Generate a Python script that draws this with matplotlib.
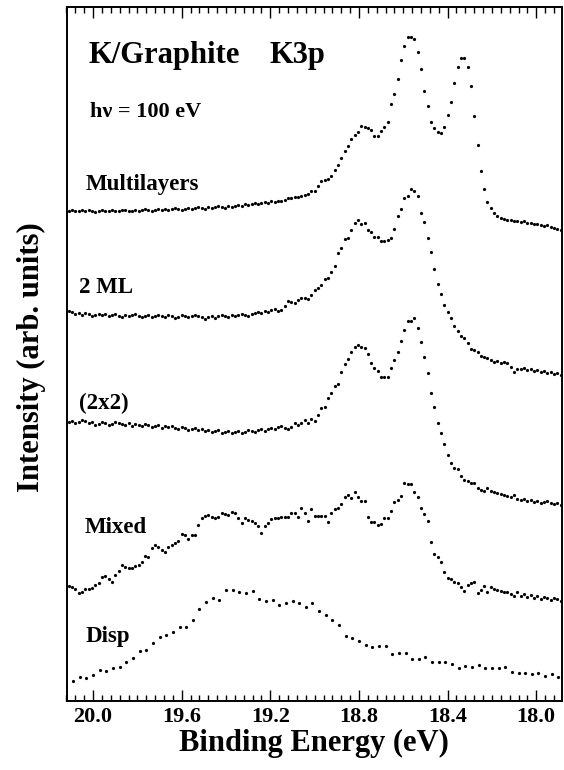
import matplotlib
matplotlib.use("Agg")
import matplotlib.pyplot as plt
import numpy as np
from matplotlib.ticker import MultipleLocator, FormatStrFormatter

# K 3p photoemission, K on graphite, hv = 100 eV
# dense scans run 20.11 -> 17.89 eV (149 pts), the Disp scan 20.09 -> 17.90 eV (74 pts)
# intensities are arbitrary units with the offsets already included

multilayers = [
    490, 491, 490, 490, 491, 490, 491, 490, 489, 490,
    491, 490, 490, 491, 490, 490, 491, 491, 490, 490,
    491, 490, 491, 492, 491, 490, 491, 492, 491, 492,
    491, 492, 493, 492, 491, 492, 493, 492, 493, 494,
    493, 492, 494, 493, 494, 495, 494, 493, 495, 494,
    495, 496, 495, 497, 496, 497, 498, 497, 498, 499,
    498, 500, 499, 500,
    500, 501, 503, 503, 504, 504, 505, 506, 507, 510,
    510, 515, 520, 521, 522, 525, 531, 536, 543, 550,
    555, 562, 566, 569, 575, 574, 573, 571, 565, 565,
    570, 574, 579, 597, 607, 622, 641, 655, 664, 664,
    662, 649, 632, 610, 595, 579, 573, 569, 568, 574,
    586, 599, 618, 634, 643, 643, 634, 615, 585, 556,
    530, 512, 499, 493, 488, 485, 483, 482,
    481, 481, 480, 480, 479, 480, 478, 478, 477, 477,
    476, 475, 476, 474, 473, 472, 471,
]

two_ml = [
    390, 389, 387, 388, 386, 388, 387, 385, 386, 387,
    386, 387, 385, 386, 387, 385, 384, 386, 385, 386,
    387, 385, 384, 385, 386, 384, 385, 386, 385, 384,
    386, 385, 383, 384, 386, 385, 384, 385, 386, 385,
    384, 382, 384, 385, 383, 385, 386, 385, 384, 386,
    385, 386, 387, 386, 385, 387, 388, 389, 388, 390,
    389, 391, 392, 390,
    391, 395, 400, 399, 398, 401, 403, 403, 402, 406,
    411, 413, 416, 422, 423, 429, 435, 448, 453, 462,
    463, 471, 478, 481, 477, 478, 471, 469, 464, 464,
    460, 460, 461, 463, 472, 485, 492, 503, 505, 512,
    510, 505, 488, 479, 463, 449, 432, 417, 407, 396,
    389, 383, 375, 370, 365, 363, 358, 352, 351, 349,
    345, 344, 343, 341, 339, 340, 338, 339, 338, 334,
    329, 332, 332,
    333, 331, 332, 330, 331, 329, 330, 328, 329, 327,
    328, 326,
]

two_by_two = [
    279, 280, 278, 279, 281, 280, 278, 279, 276, 277,
    279, 278, 276, 277, 279, 278, 277, 276, 278, 275,
    277, 276, 275, 277, 276, 274, 275, 276, 273, 275,
    274, 275, 273, 272, 274, 273, 271, 272, 273, 271,
    272, 270, 271, 269, 270, 271, 268, 269, 270, 268,
    269, 270, 268, 269, 271, 270, 269, 271, 272, 270,
    272, 273, 272, 274,
    275, 273, 272, 274, 278, 276, 278, 281, 278, 282,
    280, 286, 293, 294, 303, 308, 315, 317, 329, 337,
    342, 349, 354, 356, 354, 353, 347, 338, 333, 330,
    324, 324, 324, 333, 341, 349, 360, 371, 380, 380,
    383, 373, 359, 344, 328, 308, 294, 278, 268, 257,
    246, 238, 233, 232, 225, 221, 220, 218, 218, 213,
    211, 210, 213, 210, 209, 208, 207, 206, 205, 204,
    206, 202, 201,
    202, 200, 201, 199, 200, 198, 199, 200, 198, 197,
    198, 196,
]

mixed = [
    115, 114, 112, 108, 109, 112, 112, 113, 116, 118,
    124, 125, 122, 119, 126, 130, 136, 134, 133, 133,
    135, 136, 139, 145, 144, 153, 156, 154, 151, 149,
    154, 156, 158, 160, 167, 166, 162, 166, 166, 176,
    183, 185, 186, 184, 183, 184, 188, 187, 186, 189,
    188, 183, 178, 183, 181, 180, 178, 175, 168, 175,
    178, 182, 183, 183,
    184, 184, 184, 188, 188, 184, 193, 188, 180, 192,
    185, 185, 185, 185, 179, 188, 192, 193, 197, 204,
    206, 203, 209, 204, 200, 200, 184, 179, 179, 176,
    177, 183, 183, 190, 199, 201, 205, 218, 217, 217,
    209, 204, 193, 187, 180, 159, 147, 144, 139, 129,
    123, 122, 119, 118, 114, 110, 116, 118, 119, 108,
    111, 115, 109, 114, 112, 111, 110, 109, 109, 107,
    105, 109, 105,
    107, 104, 106, 103, 105, 102, 104, 103, 101, 103,
    102, 100,
]

disp = [
    20, 24, 23, 26, 31, 30, 33, 34, 39, 43,
    50, 51, 58, 64, 66, 69, 74, 74, 81, 92,
    99, 103, 101, 111, 111, 109, 108, 110, 102, 100,
    101, 96, 98, 100, 98, 94, 98, 90, 86, 81,
    76, 65, 63, 60, 56, 54, 55, 55, 47, 48,
    48, 42, 42, 44, 39, 39, 39, 37, 33, 35,
    34, 36, 33, 33, 33, 34, 29, 28, 28, 27,
    28, 25, 27, 24,
]

curve_labels = ["Multilayers", "2 ML", "(2x2)", "Mixed", "Disp"]
label_xy = [(0.038, 0.737), (0.026, 0.5875), (0.026, 0.4203), (0.0368, 0.2416), (0.038, 0.0854)]

plt.rcParams["font.family"] = ["Liberation Serif", "DejaVu Serif"]
plt.rcParams["font.weight"] = "bold"

fig = plt.figure(figsize=(5.64, 7.70), dpi=100)
ax = fig.add_axes([66.5 / 564, 69 / 770, 495 / 564, 694 / 770])

e_dense = np.linspace(20.11, 17.89, len(multilayers))
e_disp = np.linspace(20.09, 17.90, len(disp))

for series in (multilayers, two_ml, two_by_two, mixed):
    ax.plot(e_dense, series, "o", ms=2.3, mew=0, color="black")
ax.plot(e_disp, disp, "o", ms=2.3, mew=0, color="black")

ax.set_xlim(20.12, 17.886)
ax.set_ylim(0, 694)

# --- labels inside the frame ---
ax.text(0.044, 0.919, "K/Graphite", transform=ax.transAxes, fontsize=22,
        fontweight="bold", va="baseline")
ax.text(0.411, 0.919, "K3p", transform=ax.transAxes, fontsize=22,
        fontweight="bold", va="baseline")
ax.text(0.0475, 0.842, "h\u03bd = 100 eV", transform=ax.transAxes, fontsize=16,
        fontweight="bold", va="baseline")
for name, (tx, ty) in zip(curve_labels, label_xy):
    ax.text(tx, ty, name, transform=ax.transAxes, fontsize=16.5,
            fontweight="bold", va="baseline")

# --- axes styling ---
ax.xaxis.set_major_locator(MultipleLocator(0.4))
ax.xaxis.set_minor_locator(MultipleLocator(0.04))
ax.xaxis.set_major_formatter(FormatStrFormatter("%.1f"))
ax.tick_params(axis="x", which="both", direction="in", top=True, bottom=True,
               width=1.0, labelsize=16, pad=4)
ax.tick_params(axis="x", which="major", length=8)
ax.tick_params(axis="x", which="minor", length=4)
ax.tick_params(axis="y", left=False, right=False, labelleft=False)
for spine in ax.spines.values():
    spine.set_linewidth(1.4)

ax.set_xlabel("Binding Energy (eV)", fontsize=22, fontweight="bold", labelpad=2)
fig.text(31.5 / 564, 1 - 357 / 770, "Intensity (arb. units)", rotation=90,
         ha="center", va="center", fontsize=22, fontweight="bold")

fig.savefig("out.png", dpi=100)
plt.close(fig)
